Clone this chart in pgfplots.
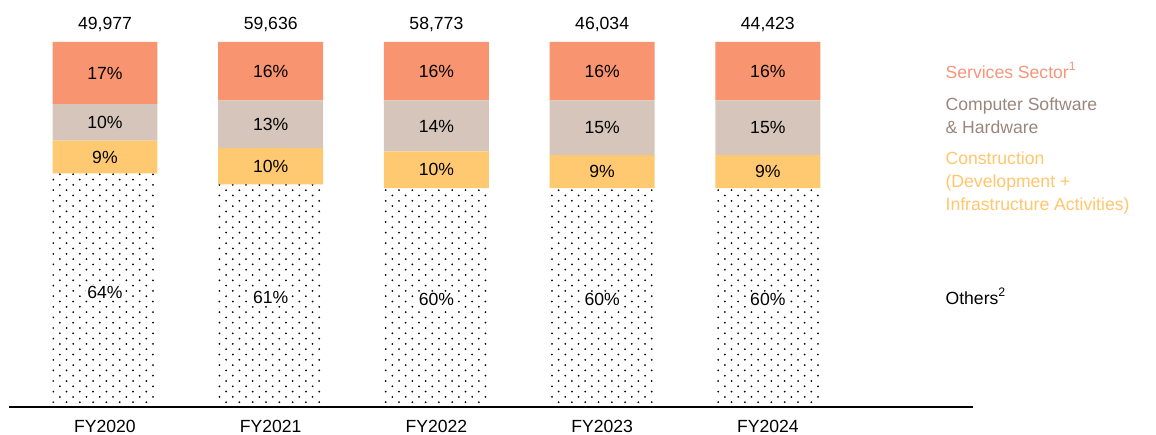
\documentclass[border=0pt]{standalone}
\usepackage{pgfplots}
\pgfplotsset{compat=1.18}
\usepackage{pgfplotstable}
\usepackage{fontspec}
\setmainfont{Liberation Sans}
\usetikzlibrary{patterns.meta}

\definecolor{svc}{HTML}{F8946F}
\definecolor{sw}{HTML}{D5C5BB}
\definecolor{con}{HTML}{FFC972}
\definecolor{svctxt}{HTML}{F5957A}
\definecolor{swtxt}{HTML}{9A867B}
\definecolor{contxt}{HTML}{FFC66C}

\tikzdeclarepattern{
  name=sparsedots,
  bottom left={(-0.6pt,-0.6pt)},
  top right={(6.25pt,4.9pt)},
  tile size={(6.65pt,5.3pt)},
  code={
    \fill (0,0) circle (0.5pt);
    \fill (3.325pt,2.65pt) circle (0.5pt);
  }
}

% share of each sector in %, total count on top
\pgfplotstableread{
x oth con sw svc tot
0 64 9 10 17 49,977
1 61 10 13 16 59,636
2 60 10 14 16 58,773
3 60 9 15 16 46,034
4 60 9 15 16 44,423
}\data

\pgfplotsset{
  base/.style={
    scale only axis, width=482pt, height=182.5pt,
    xmin=-0.579, xmax=5.238, ymin=0, ymax=100,
    clip=false,
  },
  seg/.style={
    draw=none, mark=none,
    nodes near coords={\pgfmathprintnumber[assume math mode=true]{\pgfplotspointmeta}\%},
    every node near coord/.style={anchor=center, text=black, font=\fontsize{8.8}{10}\selectfont},
  },
}

\begin{document}
\begin{tikzpicture}
\useasboundingbox (-4.5pt,-13.5pt) rectangle (573.5pt,203.5pt);
\begin{axis}[
  base,
  ybar stacked, bar width=0.633,
  axis x line=bottom, axis y line=none,
  x axis line style={-, line width=0.8pt, black},
  xtick=data, xticklabels={FY2020,FY2021,FY2022,FY2023,FY2024},
  xtick style={draw=none},
  xticklabel style={font=\fontsize{8.8}{10}\selectfont, yshift=-1pt},
]
\addplot[draw=none, pattern=sparsedots, pattern color=black] table[x=x, y=oth]{\data};
\addplot[draw=none, fill=con] table[x=x, y=con]{\data};
\addplot[draw=none, fill=sw] table[x=x, y=sw]{\data};
\addplot[draw=none, fill=svc] table[x=x, y=svc]{\data};
\end{axis}

\begin{axis}[base, hide axis]
\addplot[seg, point meta=\thisrow{oth},
  every node near coord/.append style={fill=white, inner sep=0.8pt}]
  table[x=x, y expr=\thisrow{oth}/2-0.6]{\data};
\addplot[seg, point meta=\thisrow{con}] table[x=x, y expr=\thisrow{oth}+\thisrow{con}/2]{\data};
\addplot[seg, point meta=\thisrow{sw}] table[x=x, y expr=\thisrow{oth}+\thisrow{con}+\thisrow{sw}/2]{\data};
\addplot[seg, point meta=\thisrow{svc}] table[x=x, y expr=\thisrow{oth}+\thisrow{con}+\thisrow{sw}+\thisrow{svc}/2]{\data};
\addplot[draw=none, mark=none, point meta=explicit symbolic,
  nodes near coords,
  every node near coord/.style={anchor=south, text=black, yshift=1.5pt, font=\fontsize{8.8}{10}\selectfont}]
  table[x=x, y expr=100, meta=tot]{\data};

\begin{scope}[font=\fontsize{8.8}{11.6}\selectfont]
\node[anchor=west, text=svctxt] at (axis cs:5.03,92.3) {Services Sector\textsuperscript{1}};
\node[anchor=west, text=swtxt, align=left] at (axis cs:5.03,79.7) {Computer Software\\\& Hardware};
\node[anchor=west, text=contxt, align=left] at (axis cs:5.03,61.4) {Construction\\(Development +\\Infrastructure Activities)};
\node[anchor=west, text=black] at (axis cs:5.03,30.4) {Others\textsuperscript{2}};
\end{scope}
\end{axis}
\end{tikzpicture}
\end{document}
